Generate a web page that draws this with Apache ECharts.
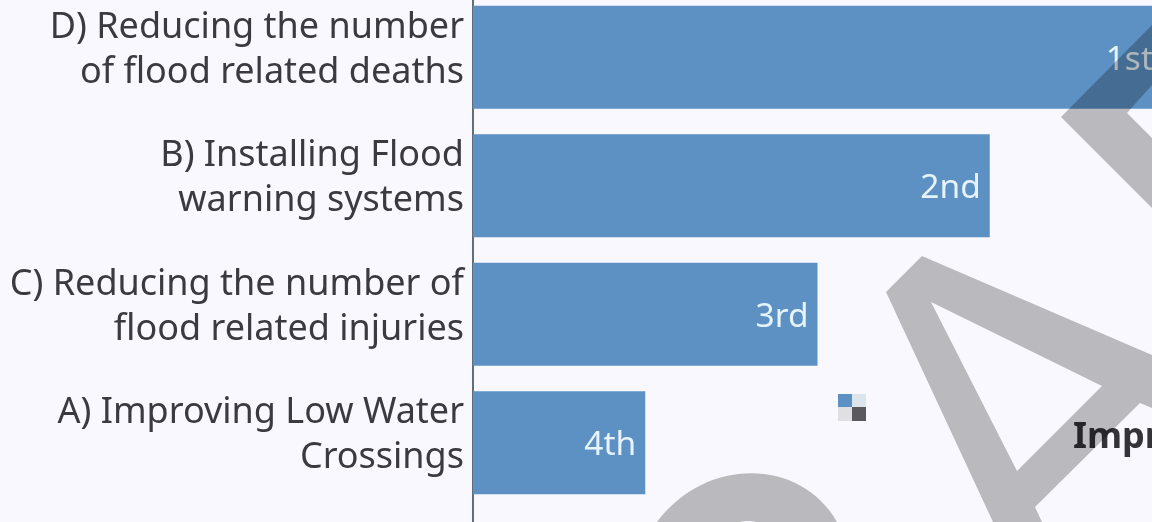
<!DOCTYPE html>
<html><head><meta charset="utf-8">
<style>html,body{margin:0;padding:0;background:#f8f8fe;overflow:hidden}#c{width:1152px;height:522px}</style>
<script src="https://cdn.jsdelivr.net/npm/echarts@6/dist/echarts.min.js"></script>
</head><body><div id="c"></div>
<script>
const categories = ["D) Reducing the number\nof flood related deaths","B) Installing Flood\nwarning systems","C) Reducing the number of\nflood related injuries","A) Improving Low Water\nCrossings"];
const values = [4,3,2,1];
const rankLabels = ["1st","2nd","3rd","4th"];
const wm = 'rgba(0,0,0,0.25)';
const chart = echarts.init(document.getElementById('c'),null,{renderer:'canvas'});
chart.setOption({
  backgroundColor:'#f8f8fe',
  animation:false,
  grid:{left:473,top:-7,width:689,height:514,outerBoundsMode:'none',containLabel:false},
  xAxis:{type:'value',min:0,max:4,show:false},
  yAxis:{type:'category',inverse:true,data:categories,
    axisLine:{show:true,lineStyle:{color:'#5f6f78',width:2}},
    axisTick:{show:false},
    axisLabel:{margin:9,fontFamily:'Noto Sans',fontSize:36,lineHeight:45,color:'#3a3a40',align:'right',
      formatter:v=>v.split('\n').map(s=>'{t|'+s+'}').join('\n')+'\n{s| }',
      rich:{t:{fontFamily:'Noto Sans',fontSize:36,lineHeight:45,color:'#3a3a40'},s:{fontSize:1,lineHeight:15}}}},
  series:[{type:'bar',data:values,barWidth:'80%',
    itemStyle:{color:'#5d91c3'},
    label:{show:true,position:'insideRight',distance:9,offset:[0,3],fontFamily:'Noto Sans',fontSize:33.5,color:'#e6f3fa',
      formatter:p=>rankLabels[p.dataIndex]}}],
  graphic:[
    {type:'rect',shape:{x:472,y:507,width:2,height:15},style:{fill:'#5f6f78'}},
    {type:'polygon',z:100,shape:{points:[[922,256],[1152,355],[1152,408],[1140,403],[1035,507],[1042,522],[993,522],[886,292]]},style:{fill:wm}},
    {type:'polygon',z:101,shape:{points:[[931,302],[1102,386],[1017,471]]},style:{fill:'#f8f8fe'}},
    {type:'polygon',z:100,shape:{points:[[1152,25],[1061,117],[1152,208],[1152,138],[1127,113],[1152,85]]},style:{fill:wm}},
    {type:'bezierCurve',z:100,shape:{x1:657,y1:522,x2:837,y2:522,cpx1:705,cpy1:457,cpx2:800,cpy2:457},style:{fill:wm,stroke:'none'}},
    {type:'ellipse',z:101,shape:{cx:748,cy:525,rx:12,ry:4},style:{fill:'#f8f8fe'}},
    {type:'rect',z:90,shape:{x:838,y:394,width:14,height:13},style:{fill:'#5d91c3'}},
    {type:'rect',z:90,shape:{x:852,y:394,width:14,height:13},style:{fill:'#dce4ec'}},
    {type:'rect',z:90,shape:{x:838,y:407,width:14,height:14},style:{fill:'#e0e0e4'}},
    {type:'rect',z:90,shape:{x:852,y:407,width:14,height:14},style:{fill:'#5a5a5c'}},
    {type:'text',z:90,style:{x:1073,y:438,text:'Impr',fontFamily:'Noto Sans',fontWeight:'bold',fontSize:36,fill:'#333338',textVerticalAlign:'middle'}}
  ]
});
</script></body></html>
